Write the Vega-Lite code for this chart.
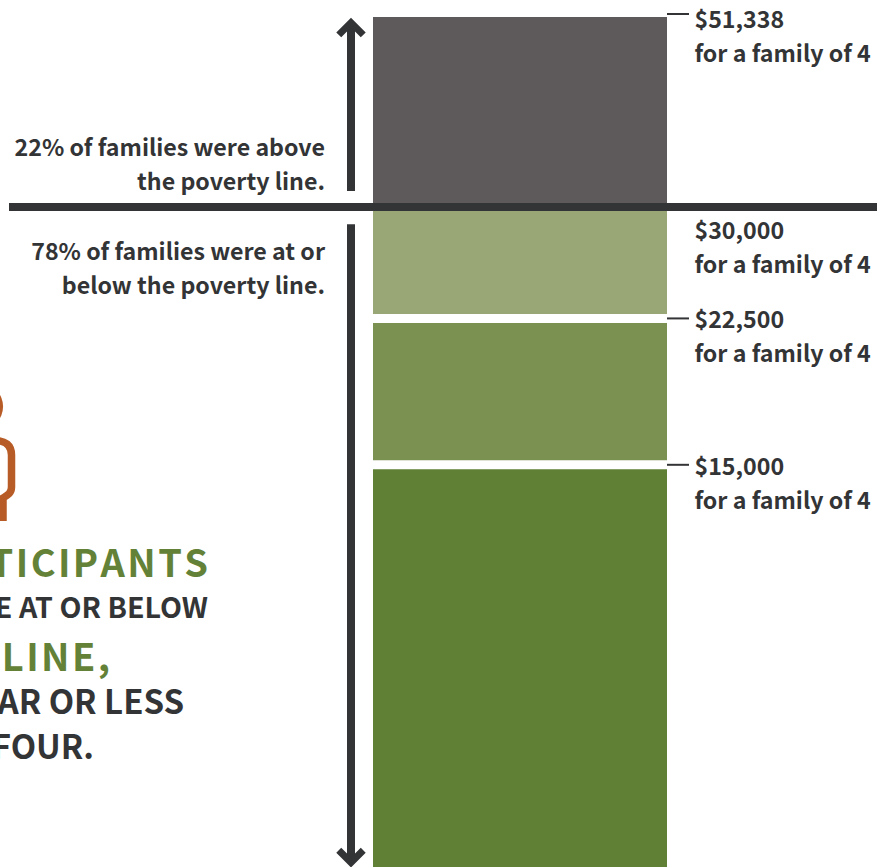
{
  "$schema": "https://vega.github.io/schema/vega-lite/v6.json",
  "width": 883,
  "height": 867,
  "autosize": "none",
  "padding": 0,
  "background": "#ffffff",
  "view": {"stroke": null},
  "config": {"text": {"font": "Noto Sans CJK SC", "fontWeight": 700}},
  "datasets": {
    "segments": [
      {"group": "Above the poverty line", "top": 22, "bottom": 0},
      {"group": "$22,500 to $30,000", "top": 0, "bottom": -12.9},
      {"group": "$15,000 to $22,500", "top": -12.9, "bottom": -29.85},
      {"group": "Below $15,000", "top": -29.85, "bottom": -78}
    ],
    "thresholds": [
      {"income": "$51,338\nfor a family of 4", "share": 20.72, "tick": 22.35},
      {"income": "$30,000\nfor a family of 4", "share": -3.7},
      {"income": "$22,500\nfor a family of 4", "share": -14.0, "tick": -12.9},
      {"income": "$15,000\nfor a family of 4", "share": -31.0, "tick": -29.85}
    ],
    "notes": [
      {"note": "22% of families were above\nthe poverty line.", "share": 5.95},
      {"note": "78% of families were at or\nbelow the poverty line.", "share": -6.1}
    ]
  },
  "layer": [
    {
      "data": {"name": "segments"},
      "mark": {"type": "bar", "clip": true},
      "encoding": {
        "x": {"datum": 373, "type": "quantitative", "scale": {"domain": [0, 883], "range": [0, 883], "nice": false, "zero": false}, "axis": null},
        "x2": {"datum": 667},
        "y": {"field": "top", "type": "quantitative", "scale": {"domain": [-76.42, 23.97], "nice": false, "zero": false}, "axis": null},
        "y2": {"field": "bottom"},
        "color": {
          "field": "group",
          "type": "nominal",
          "legend": null,
          "scale": {
            "domain": ["Above the poverty line", "$22,500 to $30,000", "$15,000 to $22,500", "Below $15,000"],
            "range": ["#5e5a5b", "#99a675", "#7b9152", "#5f8035"]
          }
        }
      }
    },
    {
      "data": {"values": [{"share": -12.9}, {"share": -29.85}]},
      "mark": {"type": "rule", "stroke": "#ffffff", "strokeWidth": 9},
      "encoding": {"x": {"datum": 373}, "x2": {"datum": 667}, "y": {"field": "share", "type": "quantitative"}}
    },
    {
      "data": {"name": "thresholds"},
      "transform": [{"filter": "isValid(datum.tick)"}],
      "mark": {"type": "rule", "stroke": "#333436", "strokeWidth": 2},
      "encoding": {"x": {"datum": 667}, "x2": {"datum": 689}, "y": {"field": "tick", "type": "quantitative"}}
    },
    {
      "data": {"values": [{"share": 0}]},
      "mark": {"type": "rule", "stroke": "#333436", "strokeWidth": 8},
      "encoding": {"x": {"datum": 9}, "x2": {"datum": 877}, "y": {"field": "share", "type": "quantitative"}}
    },
    {
      "data": {"values": [{"from": 21.4, "to": 1.85}, {"from": -2, "to": -75.5}]},
      "mark": {"type": "rule", "stroke": "#333436", "strokeWidth": 8},
      "encoding": {"x": {"datum": 351}, "y": {"field": "from", "type": "quantitative"}, "y2": {"field": "to"}}
    },
    {
      "data": {"values": [{"share": 21.35}]},
      "mark": {"type": "point", "shape": "M-1,1L0,0L1,1", "filled": false, "stroke": "#333436", "strokeWidth": 7, "strokeJoin": "miter", "strokeCap": "butt", "opacity": 1, "size": 600},
      "encoding": {"x": {"datum": 351}, "y": {"field": "share", "type": "quantitative"}}
    },
    {
      "data": {"values": [{"share": -75.9}]},
      "mark": {"type": "point", "shape": "M-1,-1L0,0L1,-1", "filled": false, "stroke": "#333436", "strokeWidth": 7, "strokeJoin": "miter", "strokeCap": "butt", "opacity": 1, "size": 600},
      "encoding": {"x": {"datum": 351}, "y": {"field": "share", "type": "quantitative"}}
    },
    {
      "data": {"name": "thresholds"},
      "mark": {"type": "text", "align": "left", "baseline": "alphabetic", "fontSize": 23.2, "lineHeight": 34.4, "lineBreak": "\n", "fill": "#333436"},
      "encoding": {"x": {"datum": 694.5}, "y": {"field": "share", "type": "quantitative"}, "text": {"field": "income"}}
    },
    {
      "data": {"name": "notes"},
      "mark": {"type": "text", "align": "right", "baseline": "alphabetic", "fontSize": 23.2, "lineHeight": 34, "lineBreak": "\n", "fill": "#333436"},
      "encoding": {"x": {"datum": 325}, "y": {"field": "share", "type": "quantitative"}, "text": {"field": "note"}}
    },
    {
      "data": {"values": [{"share": -23.1}]},
      "mark": {"type": "circle", "clip": true, "size": 2075, "fill": "#b85c27", "opacity": 1},
      "encoding": {"x": {"datum": -19.7}, "y": {"field": "share", "type": "quantitative"}}
    },
    {
      "data": {"values": [{"share": -31.61}]},
      "mark": {"type": "point", "clip": true, "shape": "M-5,-39.5C5,-39.5,11.5,-35,11.5,-25L11.5,7C11.5,13,8,15,3,18L3,41", "filled": false, "stroke": "#b85c27", "strokeWidth": 7.5, "opacity": 1, "size": 4},
      "encoding": {"x": {"datum": 0}, "y": {"field": "share", "type": "quantitative"}}
    },
    {
      "data": {"values": [{"line": "P\u200aA\u200aR\u200aT\u200aI\u200aC\u200aI\u200aP\u200aA\u200aN\u200aT\u200aS", "share": -42.8, "end": 208}, {"line": "L\u200aI\u200aN\u200aE\u200a,", "share": -53.7, "end": 110}]},
      "mark": {"type": "text", "clip": true, "align": "right", "baseline": "alphabetic", "fontSize": 38, "fill": "#648237"},
      "encoding": {"x": {"field": "end", "type": "quantitative"}, "y": {"field": "share", "type": "quantitative"}, "text": {"field": "line"}}
    },
    {
      "data": {"values": [{"line": "ARE AT OR BELOW", "share": -47.6}]},
      "mark": {"type": "text", "clip": true, "align": "right", "baseline": "alphabetic", "fontSize": 28.6, "fill": "#333436"},
      "encoding": {"x": {"datum": 208}, "y": {"field": "share", "type": "quantitative"}, "text": {"field": "line"}}
    },
    {
      "data": {"values": [{"line": "YEAR OR LESS", "share": -58.7, "end": 184}, {"line": "OF FOUR.", "share": -63.9, "end": 94}]},
      "mark": {"type": "text", "clip": true, "align": "right", "baseline": "alphabetic", "fontSize": 33, "fill": "#333436"},
      "encoding": {"x": {"field": "end", "type": "quantitative"}, "y": {"field": "share", "type": "quantitative"}, "text": {"field": "line"}}
    }
  ]
}
